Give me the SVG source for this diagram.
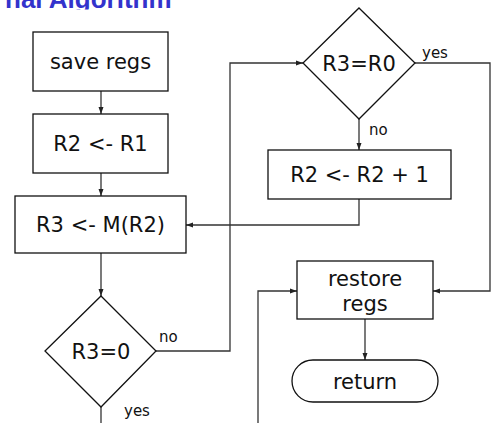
<svg xmlns="http://www.w3.org/2000/svg" width="498" height="423" viewBox="0 0 498 423">
<defs>
<marker id="ah" markerWidth="8" markerHeight="8" refX="7" refY="4" orient="auto" markerUnits="userSpaceOnUse">
<path d="M0,1.5 L7,4 L0,6.5 Z" fill="#222"/>
</marker>
<clipPath id="tc"><rect x="0" y="0" width="498" height="9.5"/></clipPath>
</defs>
<style>
.box{fill:#fff;stroke:#111;stroke-width:1.3}
.t{font-family:"DejaVu Sans",Verdana,sans-serif;font-size:21px;fill:#111;text-anchor:middle}
.s{font-family:"DejaVu Sans",Verdana,sans-serif;font-size:15px;fill:#111}
.c{fill:none;stroke:#333;stroke-width:1.3}
.title{font-family:"Liberation Sans",Arial,sans-serif;font-weight:bold;font-size:26px;fill:#3333CC}
</style>
<rect width="498" height="423" fill="#fff"/>
<text class="title" x="5" y="8" clip-path="url(#tc)">nal Algorithm</text>

<g id="connectors">
<path class="c" d="M101,91 V114" marker-end="url(#ah)"/>
<path class="c" d="M101,173 V196" marker-end="url(#ah)"/>
<path class="c" d="M101,253 V296" marker-end="url(#ah)"/>
<path class="c" d="M156,351 H230 V63 H303" marker-end="url(#ah)"/>
<path class="c" d="M359,119 V150" marker-end="url(#ah)"/>
<path class="c" d="M359,199 V225 H186" marker-end="url(#ah)"/>
<path class="c" d="M415,63 H490 V291 H433" marker-end="url(#ah)"/>
<path class="c" d="M365,319 V360" marker-end="url(#ah)"/>
<path class="c" d="M258,423 V291 H297" marker-end="url(#ah)"/>
<path class="c" d="M101,407 V423"/>
<text class="s" x="159" y="342">no</text>
<text class="s" x="124" y="416">yes</text>
<text class="s" x="422" y="58">yes</text>
<text class="s" x="369" y="135">no</text>
</g>

<g id="save-regs">
<rect class="box" x="33" y="32" width="135" height="59"/>
<text class="t" x="100.5" y="69">save regs</text>
</g>
<g id="r2-r1">
<rect class="box" x="33" y="114" width="135" height="59"/>
<text class="t" x="100.5" y="151">R2 &lt;- R1</text>
</g>
<g id="r3-mr2">
<rect class="box" x="15" y="196" width="171" height="57"/>
<text class="t" x="100.5" y="232">R3 &lt;- M(R2)</text>
</g>
<g id="r3-eq-0">
<path class="box" d="M101,296 L156,351 L101,407 L45,351 Z"/>
<text class="t" x="101" y="359">R3=0</text>
</g>
<g id="r3-eq-r0">
<path class="box" d="M359,8 L415,63 L359,119 L303,63 Z"/>
<text class="t" x="359" y="71">R3=R0</text>
</g>
<g id="r2-inc">
<rect class="box" x="268" y="150" width="183" height="49"/>
<text class="t" x="359.5" y="182">R2 &lt;- R2 + 1</text>
</g>
<g id="restore-regs">
<rect class="box" x="297" y="261" width="136" height="58"/>
<text class="t" x="365" y="286">restore</text>
<text class="t" x="365" y="311">regs</text>
</g>
<g id="return">
<rect class="box" x="292" y="360" width="146" height="42" rx="21" ry="21"/>
<text class="t" x="365" y="389">return</text>
</g>
</svg>
